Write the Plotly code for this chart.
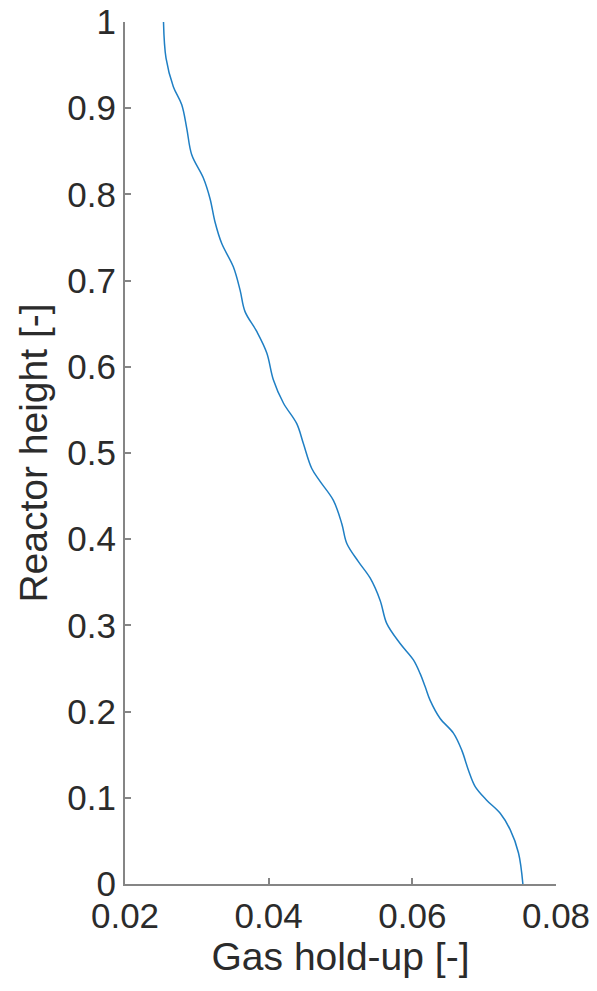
import plotly.graph_objects as go

gas_holdup = [0.02536, 0.02571, 0.02673, 0.02790, 0.02859, 0.02929, 0.03091, 0.03184,
              0.03253, 0.03347, 0.03508, 0.03602, 0.03671, 0.03834, 0.03974, 0.04065,
              0.04205, 0.04391, 0.04483, 0.04600, 0.04716, 0.04901, 0.05018, 0.05088,
              0.05249, 0.05412, 0.05552, 0.05645, 0.05830, 0.06015, 0.06109, 0.06178,
              0.06248, 0.06387, 0.06572, 0.06689, 0.06781, 0.06875, 0.07038, 0.07223,
              0.07362, 0.07478, 0.07539]
reactor_height = [1.000, 0.958, 0.925, 0.904, 0.877, 0.846, 0.819, 0.795,
                  0.768, 0.743, 0.716, 0.689, 0.664, 0.641, 0.616, 0.585,
                  0.558, 0.534, 0.511, 0.482, 0.467, 0.445, 0.418, 0.395,
                  0.374, 0.355, 0.329, 0.302, 0.279, 0.260, 0.244, 0.229,
                  0.213, 0.192, 0.175, 0.155, 0.132, 0.113, 0.097, 0.082,
                  0.063, 0.036, 0.000]

x_ticks = [0.02, 0.04, 0.06, 0.08]
x_tick_labels = ["0.02", "0.04", "0.06", "0.08"]
y_ticks = [0, 0.1, 0.2, 0.3, 0.4, 0.5, 0.6, 0.7, 0.8, 0.9, 1]
y_tick_labels = ["0", "0.1", "0.2", "0.3", "0.4", "0.5", "0.6", "0.7", "0.8", "0.9", "1"]

fig = go.Figure()
fig.add_trace(go.Scatter(
    x=gas_holdup, y=reactor_height, mode="lines",
    line=dict(color="#1f7fc4", width=1.5, shape="spline", smoothing=1.0),
    showlegend=False, hoverinfo="x+y",
))

font_family = "Liberation Sans, Arial, Helvetica, sans-serif"
axis_color = "#858585"
text_color = "#2b2b2b"

fig.update_layout(
    width=597, height=991,
    margin=dict(l=125, r=41, t=22, b=107, pad=0),
    paper_bgcolor="white", plot_bgcolor="white",
    font=dict(family=font_family, color=text_color, size=35),
)
fig.update_xaxes(
    range=[0.02, 0.08], tickmode="array", tickvals=x_ticks, ticktext=x_tick_labels,
    showline=True, linecolor=axis_color, linewidth=2, mirror=False,
    ticks="inside", ticklen=6, tickwidth=1.5, tickcolor=axis_color,
    showgrid=False, zeroline=False,
    tickfont=dict(size=35, color=text_color, family=font_family),
    title=dict(text="Gas hold-up [-]", font=dict(size=39, color=text_color, family=font_family), standoff=4),
    automargin=False,
)
fig.update_yaxes(
    range=[0, 1], tickmode="array", tickvals=y_ticks, ticktext=y_tick_labels,
    showline=True, linecolor=axis_color, linewidth=2, mirror=False,
    ticks="inside", ticklen=6, tickwidth=1.5, tickcolor=axis_color,
    showgrid=False, zeroline=False,
    tickfont=dict(size=35, color=text_color, family=font_family),
    title=dict(text="Reactor height [-]", font=dict(size=39, color=text_color, family=font_family), standoff=8),
    automargin=False,
)

fig.write_html("out.html")
